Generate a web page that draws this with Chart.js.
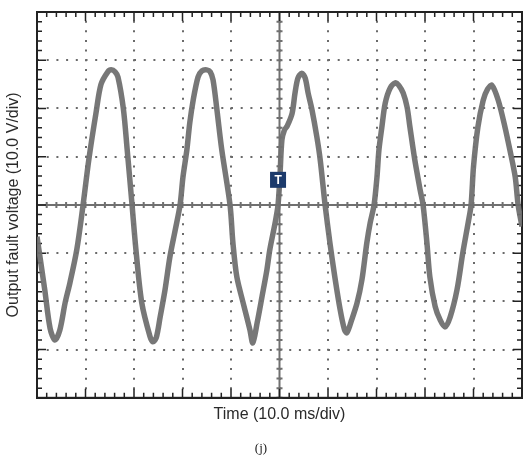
<!DOCTYPE html>
<html lang="en">
<head>
    <meta charset="UTF-8">
    <title>Output fault voltage</title>
    <script src="https://cdn.jsdelivr.net/npm/chart.js"></script>
    <style>
        body {
            margin: 0;
            background: #ffffff;
        }

        .chart-box {
            width: 527px;
            height: 456px;
        }
    </style>
</head>
<body>
    <div class="chart-box">
        <canvas id="scope" width="527" height="456"></canvas>
    </div>

    <script>
        // trace: time in ms, voltage in V
        const timeMs = [0, 1.6, 2.7, 3.7, 4.7, 5.8, 6.8, 8.2, 9.5, 10.7, 12.2, 13.2, 14.6, 15.3, 16.1,
            16.7, 17.8, 18.6, 19.6, 20.4, 21.6, 23.3, 23.9, 24.6, 25.4, 26.4, 27.4, 28.5, 29.5, 30.1,
            30.9, 31.5, 32.2, 33.2, 34.0, 35.0, 35.7, 36.3, 37.1, 38.1, 39.8, 40.4, 41.2, 42.5, 43.9,
            44.5, 45.4, 46.4, 47.4, 48.0, 49.1, 49.7, 50.1, 50.5, 51.0, 51.6, 52.6, 53.2, 53.8, 54.6,
            55.3, 55.9, 56.7, 57.7, 58.4, 59.4, 60.4, 61.4, 62.5, 63.4, 63.9, 64.9, 66.0, 67.0, 68.0,
            68.7, 69.5, 70.1, 70.5, 71.1, 71.8, 72.8, 73.9, 74.6, 75.5, 76.3, 76.9, 77.9, 79.0, 79.6,
            80.4, 81.0, 82.1, 83.1, 84.1, 85.2, 86.6, 87.8, 88.9, 89.5, 90.0, 90.9, 92.0, 92.9, 93.8,
            95.1, 96.5, 97.5, 98.6, 99.2, 100];
        const voltage = [-6.6, -17.6, -25.6, -28.0, -26.0, -20.3, -16.1, -9.3, 0, 9.5, 19.3, 25.0, 27.6, 28.0, 27.6,
            26.5, 20.0, 11.4, 0, -9.3, -20.3, -27.3, -28.4, -27.5, -23.2, -17.6, -10.8, -5.2, 0, 5.8,
            11.4, 17.0, 21.7, 26.5, 27.8, 28.0, 27.6, 25.9, 19.7, 11.4, 0, -7.9, -14.9, -20.3, -25.9,
            -28.6, -24.4, -19.0, -13.5, -9.3, -3.7, 0, 6.2, 13.5, 15.5, 16.4, 19.0, 23.2, 26.3, 27.3,
            26.3, 23.2, 19.7, 14.1, 9.3, 0, -7.9, -14.9, -21.7, -25.9, -26.5, -23.8, -20.3, -15.5, -7.9,
            -3.7, 0, 5.8, 11.4, 16.1, 21.1, 24.2, 25.3, 24.8, 23.2, 20.3, 16.1, 9.3, 3.1, 0,
            -7.9, -14.9, -21.1, -23.8, -25.3, -23.2, -17.6, -9.9, -3.7, 0, 7.9, 16.1, 21.7, 24.0, 24.8,
            21.7, 16.1, 11.4, 5.8, 0, -4.5];

        // screen divisions
        const timeDivs = [0, 100, 10];     // min, max, ms/div
        const voltDivs = [-40, 40, 10];    // min, max, V/div
        const minorPerDiv = 5;
        const trigger = { x: 49.7, y: 5.2, label: 'T' };

        const xTitle = 'Time (10.0 ms/div)';
        const yTitle = 'Output fault voltage (10.0 V/div)';
        const caption = '(j)';

        const points = timeMs.map((t, i) => ({ x: t, y: voltage[i] }));

        // frame, centre cross with its small ticks, and the trigger flag
        const scopePlugin = {
            id: 'scopeScreen',
            beforeDatasetsDraw(chart) {
                const { ctx, chartArea: a, scales: { x, y } } = chart;
                const xStep = timeDivs[2] / minorPerDiv;
                const yStep = voltDivs[2] / minorPerDiv;
                const cx = x.getPixelForValue((timeDivs[0] + timeDivs[1]) / 2);
                const cy = y.getPixelForValue((voltDivs[0] + voltDivs[1]) / 2);
                ctx.save();

                // centre cross
                ctx.strokeStyle = '#707070';
                ctx.lineWidth = 2;
                ctx.beginPath();
                ctx.moveTo(a.left, cy); ctx.lineTo(a.right, cy);
                ctx.moveTo(cx, a.top); ctx.lineTo(cx, a.bottom);
                for (let v = timeDivs[0]; v <= timeDivs[1]; v += xStep) {
                    const px = x.getPixelForValue(v);
                    ctx.moveTo(px, cy - 3); ctx.lineTo(px, cy + 3);
                }
                for (let v = voltDivs[0]; v <= voltDivs[1]; v += yStep) {
                    const py = y.getPixelForValue(v);
                    ctx.moveTo(cx - 3, py); ctx.lineTo(cx + 3, py);
                }
                ctx.stroke();

                // frame ticks
                ctx.strokeStyle = '#222';
                ctx.lineWidth = 1.5;
                ctx.beginPath();
                let n = 0;
                for (let v = timeDivs[0]; v <= timeDivs[1] + 0.01; v += xStep, n++) {
                    const px = x.getPixelForValue(v);
                    const len = n % minorPerDiv === 0 ? 9 : 5;
                    ctx.moveTo(px, a.top); ctx.lineTo(px, a.top + len);
                    ctx.moveTo(px, a.bottom); ctx.lineTo(px, a.bottom - len);
                }
                n = 0;
                for (let v = voltDivs[0]; v <= voltDivs[1] + 0.01; v += yStep, n++) {
                    const py = y.getPixelForValue(v);
                    const len = n % minorPerDiv === 0 ? 9 : 5;
                    ctx.moveTo(a.left, py); ctx.lineTo(a.left + len, py);
                    ctx.moveTo(a.right, py); ctx.lineTo(a.right - len, py);
                }
                ctx.stroke();

                // outer frame
                ctx.lineWidth = 2;
                ctx.strokeRect(a.left, a.top, a.right - a.left, a.bottom - a.top);
                ctx.restore();
            },
            afterDatasetsDraw(chart) {
                const { ctx, scales: { x, y } } = chart;
                const px = x.getPixelForValue(trigger.x);
                const py = y.getPixelForValue(trigger.y);
                ctx.save();
                ctx.fillStyle = '#1c3a6b';
                ctx.fillRect(px - 8, py - 8, 16, 16);
                ctx.fillStyle = '#ffffff';
                ctx.font = 'bold 12px "Liberation Sans", Arial, sans-serif';
                ctx.textAlign = 'center';
                ctx.textBaseline = 'middle';
                ctx.fillText(trigger.label, px, py + 0.5);
                ctx.restore();
            }
        };

        const ctx = document.getElementById('scope').getContext('2d');
        const chart = new Chart(ctx, {
            type: 'line',
            data: {
                datasets: [{
                    data: points,
                    borderColor: 'rgba(112, 112, 112, 0.95)',
                    borderWidth: 5.5,
                    pointRadius: 0,
                    tension: 0.3,
                    fill: false
                }]
            },
            options: {
                responsive: false,
                animation: false,
                layout: { padding: { left: 0, top: 12, right: 5, bottom: 0 } },
                plugins: {
                    legend: { display: false },
                    tooltip: { enabled: false },
                    title: {
                        display: true,
                        position: 'bottom',
                        text: caption,
                        color: '#222',
                        font: { family: '"Liberation Serif", "Times New Roman", serif', size: 13, weight: 'normal' },
                        padding: { top: 14, bottom: 0 }
                    }
                },
                scales: {
                    x: {
                        type: 'linear',
                        min: timeDivs[0],
                        max: timeDivs[1],
                        ticks: { display: false, stepSize: timeDivs[2] },
                        grid: { color: '#6a6a6a', lineWidth: 2, drawTicks: false },
                        border: { display: true, color: '#222', width: 2, dash: [2, 7.65], dashOffset: 1 },
                        title: {
                            display: true,
                            text: xTitle,
                            color: '#2a2a2a',
                            font: { family: '"Liberation Sans", Arial, sans-serif', size: 16 },
                            padding: { top: 7.4, bottom: 2 }
                        }
                    },
                    y: {
                        min: voltDivs[0],
                        max: voltDivs[1],
                        ticks: { display: false, stepSize: voltDivs[2] },
                        grid: { color: '#6a6a6a', lineWidth: 2, drawTicks: false },
                        border: { display: true, color: '#222', width: 2, dash: [2, 7.7], dashOffset: 1 },
                        title: {
                            display: true,
                            text: yTitle,
                            color: '#2a2a2a',
                            font: { family: '"Liberation Sans", Arial, sans-serif', size: 16 },
                            padding: { top: 4.4, bottom: 13.4 }
                        }
                    }
                }
            },
            plugins: [scopePlugin]
        });
    </script>
</body>
</html>
